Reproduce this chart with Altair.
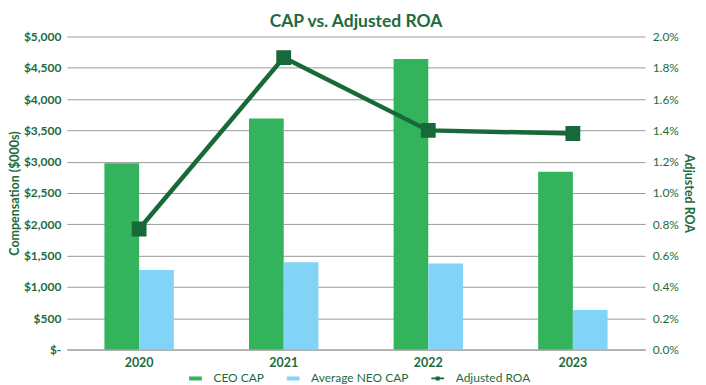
import altair as alt
import pandas as pd

years = ["2020", "2021", "2022", "2023"]
ceo_cap = [2975, 3690, 4640, 2840]
neo_cap = [1270, 1395, 1375, 630]
adj_roa = [0.0077, 0.01865, 0.0140, 0.0138]

bar_series = ["CEO CAP", "Average NEO CAP"]
bar_colors = ["#33b35b", "#82d4f7"]
roa_name = "Adjusted ROA"
roa_color = "#17693a"
text_green = "#1d6b3d"

bars_df = pd.DataFrame(
    [{"year": y, "series": "CEO CAP", "value": v} for y, v in zip(years, ceo_cap)]
    + [{"year": y, "series": "Average NEO CAP", "value": v} for y, v in zip(years, neo_cap)]
)
roa_df = pd.DataFrame({"year": years, "roa": adj_roa, "series": [roa_name] * len(years)})

font = "Lato"

x_enc = alt.X(
    "year:N",
    sort=years,
    scale=alt.Scale(paddingInner=0.52, paddingOuter=0.26),
    axis=alt.Axis(
        title=None, labelAngle=0, labelFontWeight="bold", labelFontSize=12.5,
        labelColor=text_green, labelPadding=7, ticks=False, domainColor="#999999",
        labelFont=font,
    ),
)

rect_path = "M-1.6,-0.5H1.6V0.5H-1.6Z"
roa_path = "M-1.6,-0.22H1.6V0.22H-1.6Z M-0.5,-0.5H0.5V0.5H-0.5Z"

bars = alt.Chart(bars_df).mark_bar().encode(
    x=x_enc,
    xOffset=alt.XOffset("series:N", sort=bar_series),
    y=alt.Y(
        "value:Q",
        scale=alt.Scale(domain=[0, 5000]),
        axis=alt.Axis(
            title="Compensation ($000s)",
            values=list(range(0, 5001, 500)),
            labelExpr="datum.value == 0 ? '$-' : '$' + format(datum.value, ',')",
            grid=True, gridColor="#9a9a9a", gridWidth=1, ticks=False, domain=False,
            labelColor=text_green, labelFontWeight="bold", labelFontSize=12,
            labelPadding=6, titleColor=text_green, titleFontSize=12.5,
            titleFontWeight="bold", titlePadding=2, labelFont=font, titleFont=font,
        ),
    ),
    color=alt.Color(
        "series:N",
        scale=alt.Scale(domain=bar_series, range=bar_colors),
        legend=alt.Legend(
            title=None, orient="none", direction="horizontal",
            legendX=123, legendY=337,
            labelFont=font, labelFontSize=12, labelColor=text_green,
            symbolSize=64, labelOffset=12, columnPadding=22,
            symbolStrokeWidth=0, symbolType=rect_path, symbolOpacity=1,
        ),
    ),
)

line = alt.Chart(roa_df).mark_line(
    strokeWidth=4.5,
    point=alt.OverlayMarkDef(shape="square", size=165, color=roa_color, opacity=1),
).encode(
    x=alt.X("year:N", sort=years),
    y=alt.Y(
        "roa:Q",
        scale=alt.Scale(domain=[0, 0.02]),
        axis=alt.Axis(
            title="Adjusted ROA", orient="right",
            values=[i * 0.002 for i in range(11)], format=".1%",
            grid=False, ticks=False, domain=False,
            labelColor=text_green, labelFontWeight="normal", labelFontSize=12,
            labelPadding=7, titleColor=text_green, titleFontSize=12.5,
            titleFontWeight="bold", titlePadding=3, labelFont=font, titleFont=font,
        ),
    ),
    stroke=alt.Stroke(
        "series:N",
        scale=alt.Scale(domain=[roa_name], range=[roa_color]),
        legend=alt.Legend(
            title=None, orient="none", direction="horizontal",
            legendX=366, legendY=337,
            labelFont=font, labelFontSize=12, labelColor=text_green,
            symbolSize=64, labelOffset=12,
            symbolType=roa_path, symbolFillColor=roa_color,
            symbolStrokeWidth=0, symbolOpacity=1,
        ),
    ),
)

chart = (
    alt.layer(bars, line)
    .resolve_scale(y="independent")
    .properties(
        width=580,
        height=314,
        padding={"left": 0, "top": 4, "right": 3, "bottom": 0},
        title=alt.TitleParams(
            "CAP vs. Adjusted ROA", fontSize=17.5, fontWeight="bold",
            color=text_green, font=font, anchor="middle", offset=0,
        ),
    )
    .configure_view(stroke=None)
)

chart.save("out.html", embed_options={"renderer": "svg", "actions": False})
